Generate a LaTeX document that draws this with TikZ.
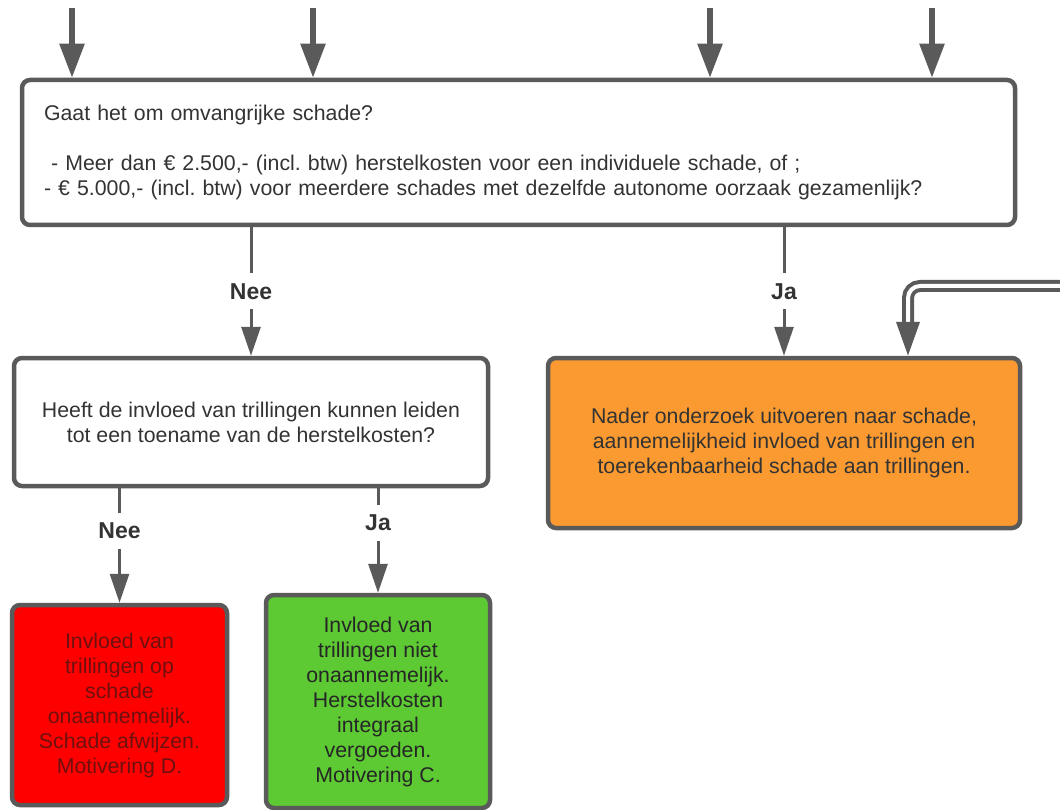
\documentclass[tikz,border=0pt]{standalone}
\usepackage{fontspec}
\setmainfont{Liberation Sans}
\frenchspacing
\usetikzlibrary{calc,arrows.meta}

\definecolor{boxgray}{HTML}{5A5A5A}
\definecolor{txtgray}{HTML}{333333}
\definecolor{orangefill}{HTML}{FB9A30}
\definecolor{redfill}{HTML}{FF0000}
\definecolor{greenfill}{HTML}{5DC933}
\definecolor{redtxt}{HTML}{6E1010}

\tikzset{
  box/.style={draw=boxgray, line width=4.5pt, rounded corners=8pt,
    fill=white, text=txtgray, font=\fontsize{21.3}{25}\selectfont,
    inner sep=0pt, align=center},
  feedarrow/.style={draw=boxgray, line width=5.5pt,
    -{Triangle[length=34pt,width=24pt]}},
  conn/.style={draw=boxgray, line width=3pt,
    -{Triangle[length=29pt,width=19pt]}},
  tube/.style={draw=boxgray, line width=4pt, double=white,
    double distance=4pt, rounded corners=12pt,
    -{Triangle[length=34pt,width=23pt]}},
  lbl/.style={fill=white, text=txtgray, font=\fontsize{23}{25}\selectfont\bfseries,
    inner sep=2pt, minimum height=36pt}
}

\begin{document}
\begin{tikzpicture}[x=1pt,y=-1pt]
  \useasboundingbox (0,0) rectangle (1060,810);

  % Boxes
  \node[box, minimum width=993pt, minimum height=145pt, text width=949pt, align=left]
    (check) at (518.5,152.5)
    {Gaat het om omvangrijke schade?\\[25pt]
     \ - Meer dan € 2.500,- (incl. btw) herstelkosten voor een individuele schade, of ;\\
     - € 5.000,- (incl. btw) voor meerdere schades met dezelfde autonome oorzaak gezamenlijk?};

  \node[box, minimum width=474pt, minimum height=128pt] (increase) at (251,422)
    {Heeft de invloed van trillingen kunnen leiden\\tot een toename van de herstelkosten?};

  \node[box, fill=orangefill, minimum width=472pt, minimum height=170pt] (research) at (784,443)
    {Nader onderzoek uitvoeren naar schade,\\aannemelijkheid invloed van trillingen en\\toerekenbaarheid schade aan trillingen.};

  \node[box, fill=redfill, text=redtxt, minimum width=215pt, minimum height=200pt] (reject) at (119.5,705)
    {Invloed van\\trillingen op\\schade\\onaannemelijk.\\Schade afwijzen.\\Motivering D.};

  \node[box, fill=greenfill, text=black!85, minimum width=224pt, minimum height=213pt] (pay) at (378,701.5)
    {Invloed van\\trillingen niet\\onaannemelijk.\\Herstelkosten\\integraal\\vergoeden.\\Motivering C.};

  % Incoming arrows
  \foreach \x [count=\i] in {72,313,710,932} {
    \coordinate (in\i) at (\x,8);
    \draw[feedarrow] (in\i) -- (in\i |- check.north);
  }

  % Incoming double line
  \coordinate (loop) at (1064,286);
  \draw[tube] (loop) -| ([xshift=124pt]research.north);

  % Decisions
  \draw[conn] (increase.north |- check.south) -- node[lbl] {Nee} (increase.north);
  \draw[conn] (research.north |- check.south) -- node[lbl] {Ja} (research.north);
  \draw[conn] (reject.north |- increase.south) -- node[lbl, pos=0.37] {Nee} (reject.north);
  \draw[conn] (pay.north |- increase.south) -- node[lbl, pos=0.33] {Ja} (pay.north);
\end{tikzpicture}
\end{document}
